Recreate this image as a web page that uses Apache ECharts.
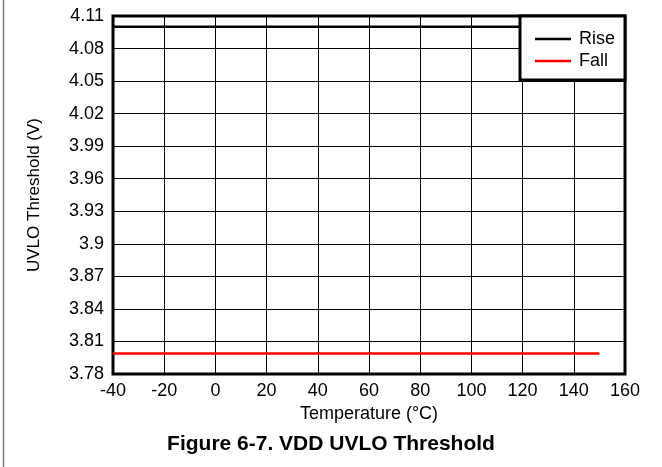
<!DOCTYPE html>
<html><head><meta charset="utf-8">
<script src="https://cdn.jsdelivr.net/npm/echarts@6/dist/echarts.min.js"></script>
<style>html,body{margin:0;padding:0;background:#fff}#c{width:662px;height:467px}</style>
</head><body><div id="c"></div>
<script>
const temps = [-40, 150];
const riseValues = [4.1, 4.1];
const fallValues = [3.799, 3.799];
const seriesNames = ['Rise', 'Fall'];
const xTicks = [-40, -20, 0, 20, 40, 60, 80, 100, 120, 140, 160];
const yTicks = [3.78, 3.81, 3.84, 3.87, 3.9, 3.93, 3.96, 3.99, 4.02, 4.05, 4.08, 4.11];

const font = '"Liberation Sans", Arial, sans-serif';
const chart = echarts.init(document.getElementById('c'), null, {renderer: 'canvas'});
chart.setOption({
  animation: false,
  backgroundColor: '#fff',
  grid: {left: 113, right: 37, top: 16, bottom: 93, show: true, borderColor: '#000', borderWidth: 3, backgroundColor: 'transparent'},
  title: {text: 'Figure 6-7. VDD UVLO Threshold', left: 'center', top: 429,
    textStyle: {fontFamily: font, fontSize: 21, fontWeight: 'bold', color: '#000'}},
  legend: {
    data: seriesNames, orient: 'vertical', left: 530, top: 25, itemWidth: 36, itemHeight: 2.5,
    itemGap: 4, icon: 'rect', z: 10,
    textStyle: {fontFamily: font, fontSize: 18, color: '#000', padding: [0, 0, 0, 3]}
  },
  graphic: [
    {type: 'rect', z: 5, shape: {x: 520, y: 16, width: 105, height: 64}, style: {fill: '#fff', stroke: '#000', lineWidth: 3}},
    {type: 'line', z: 5, shape: {x1: 3.5, y1: 0, x2: 3.5, y2: 467}, style: {stroke: '#777', lineWidth: 1.5}}
  ],
  xAxis: {
    type: 'value', min: xTicks[0], max: xTicks[xTicks.length - 1], interval: 20,
    name: 'Temperature (°C)', nameLocation: 'middle', nameGap: 31,
    nameTextStyle: {fontFamily: font, fontSize: 18, color: '#000'},
    axisLine: {show: false}, axisTick: {show: false},
    axisLabel: {fontFamily: font, fontSize: 18, color: '#000', margin: 8},
    splitLine: {show: true, lineStyle: {color: '#000', width: 1}}
  },
  yAxis: {
    type: 'value', min: yTicks[0], max: yTicks[yTicks.length - 1], interval: 0.03,
    name: 'UVLO Threshold (V)', nameLocation: 'middle', nameGap: 70,
    nameTextStyle: {fontFamily: font, fontSize: 17, color: '#000'},
    axisLine: {show: false}, axisTick: {show: false},
    axisLabel: {fontFamily: font, fontSize: 18, color: '#000', margin: 9,
      formatter: v => String(+v.toFixed(2))},
    splitLine: {show: true, lineStyle: {color: '#000', width: 1}}
  },
  series: [
    {name: seriesNames[0], type: 'line', data: temps.map((t, i) => [t, riseValues[i]]), symbol: 'none',
      itemStyle: {color: '#000'}, lineStyle: {color: '#000', width: 2.5}, z: 2},
    {name: seriesNames[1], type: 'line', data: temps.map((t, i) => [t, fallValues[i]]), symbol: 'none',
      itemStyle: {color: '#f00'}, lineStyle: {color: '#f00', width: 2.5}, z: 2}
  ]
});
</script></body></html>
